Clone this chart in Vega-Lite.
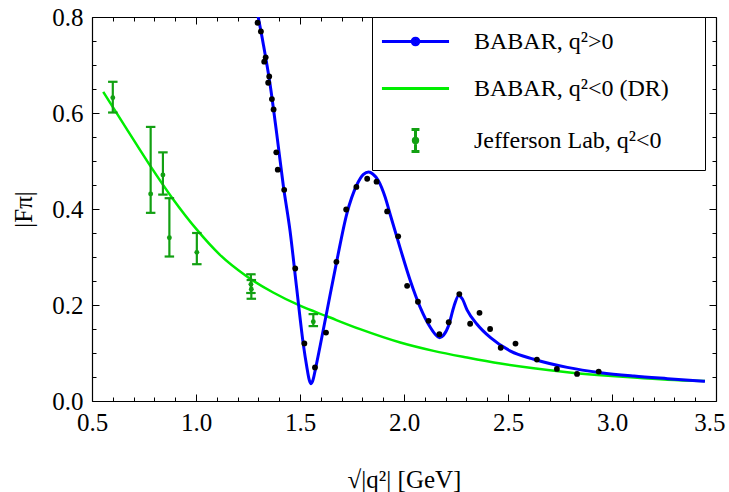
{
  "$schema": "https://vega.github.io/schema/vega-lite/v6.json",
  "width": 624,
  "height": 384,
  "autosize": {"type": "none"},
  "padding": {"left": 92, "top": 17, "right": 13, "bottom": 91},
  "background": "white",
  "config": {
    "view": {"stroke": null},
    "font": "Liberation Serif",
    "style": {
      "guide-label": {"font": "Liberation Serif"},
      "guide-title": {"font": "Liberation Serif"}
    },
    "axis": {
      "domainColor": "black",
      "domainWidth": 1.2,
      "tickColor": "black",
      "tickWidth": 1,
      "labelColor": "black",
      "titleColor": "black",
      "labelFont": "Liberation Serif",
      "titleFont": "Liberation Serif",
      "labelFontSize": 25,
      "titleFontSize": 25,
      "titleFontWeight": "normal",
      "grid": false,
      "labelOverlap": false,
      "labelFlush": false
    }
  },
  "datasets": {
    "babar_curve": [
      {"x": 1.290, "y": 0.82}, {"x": 1.323, "y": 0.745}, {"x": 1.355, "y": 0.663},
      {"x": 1.388, "y": 0.557}, {"x": 1.420, "y": 0.448}, {"x": 1.452, "y": 0.355},
      {"x": 1.484, "y": 0.235}, {"x": 1.516, "y": 0.118}, {"x": 1.532, "y": 0.073},
      {"x": 1.545, "y": 0.043}, {"x": 1.553, "y": 0.036}, {"x": 1.562, "y": 0.043},
      {"x": 1.574, "y": 0.066}, {"x": 1.596, "y": 0.113}, {"x": 1.629, "y": 0.186},
      {"x": 1.677, "y": 0.292}, {"x": 1.725, "y": 0.390}, {"x": 1.773, "y": 0.450},
      {"x": 1.805, "y": 0.472}, {"x": 1.830, "y": 0.477}, {"x": 1.850, "y": 0.473},
      {"x": 1.877, "y": 0.459}, {"x": 1.910, "y": 0.424}, {"x": 1.934, "y": 0.388},
      {"x": 1.982, "y": 0.318}, {"x": 2.030, "y": 0.251}, {"x": 2.078, "y": 0.195},
      {"x": 2.127, "y": 0.153}, {"x": 2.150, "y": 0.139}, {"x": 2.171, "y": 0.132},
      {"x": 2.190, "y": 0.137}, {"x": 2.215, "y": 0.158}, {"x": 2.240, "y": 0.197},
      {"x": 2.263, "y": 0.220}, {"x": 2.280, "y": 0.213}, {"x": 2.303, "y": 0.190},
      {"x": 2.351, "y": 0.160}, {"x": 2.416, "y": 0.132}, {"x": 2.512, "y": 0.104},
      {"x": 2.624, "y": 0.087}, {"x": 2.785, "y": 0.070}, {"x": 2.946, "y": 0.059},
      {"x": 3.106, "y": 0.052}, {"x": 3.267, "y": 0.0466}, {"x": 3.447, "y": 0.041}
    ],
    "dr_curve": [
      {"x": 0.554, "y": 0.644}, {"x": 0.665, "y": 0.568}, {"x": 0.777, "y": 0.492},
      {"x": 0.889, "y": 0.421}, {"x": 1.002, "y": 0.358}, {"x": 1.114, "y": 0.305},
      {"x": 1.243, "y": 0.260}, {"x": 1.371, "y": 0.226}, {"x": 1.500, "y": 0.1985},
      {"x": 1.629, "y": 0.1765}, {"x": 1.789, "y": 0.1496}, {"x": 1.982, "y": 0.1218},
      {"x": 2.142, "y": 0.1044}, {"x": 2.303, "y": 0.0905}, {"x": 2.464, "y": 0.0780},
      {"x": 2.624, "y": 0.0680}, {"x": 2.785, "y": 0.060}, {"x": 2.946, "y": 0.0538},
      {"x": 3.106, "y": 0.0487}, {"x": 3.267, "y": 0.0445}, {"x": 3.447, "y": 0.0415}
    ],
    "babar_pts": [
      {"x": 1.296, "y": 0.788}, {"x": 1.312, "y": 0.770}, {"x": 1.328, "y": 0.707},
      {"x": 1.335, "y": 0.716}, {"x": 1.347, "y": 0.663}, {"x": 1.352, "y": 0.676},
      {"x": 1.365, "y": 0.629}, {"x": 1.373, "y": 0.6075}, {"x": 1.386, "y": 0.518},
      {"x": 1.393, "y": 0.482}, {"x": 1.424, "y": 0.440}, {"x": 1.477, "y": 0.276},
      {"x": 1.521, "y": 0.120}, {"x": 1.572, "y": 0.070}, {"x": 1.625, "y": 0.1426},
      {"x": 1.675, "y": 0.290}, {"x": 1.722, "y": 0.399}, {"x": 1.771, "y": 0.446},
      {"x": 1.823, "y": 0.463}, {"x": 1.868, "y": 0.457}, {"x": 1.919, "y": 0.395},
      {"x": 1.972, "y": 0.343}, {"x": 2.015, "y": 0.240}, {"x": 2.067, "y": 0.2067},
      {"x": 2.118, "y": 0.167}, {"x": 2.170, "y": 0.139}, {"x": 2.215, "y": 0.164},
      {"x": 2.266, "y": 0.2227}, {"x": 2.318, "y": 0.161}, {"x": 2.363, "y": 0.1837},
      {"x": 2.414, "y": 0.150}, {"x": 2.465, "y": 0.111}, {"x": 2.536, "y": 0.1197},
      {"x": 2.639, "y": 0.0863}, {"x": 2.735, "y": 0.0668}, {"x": 2.832, "y": 0.0564},
      {"x": 2.936, "y": 0.0612}
    ],
    "jlab": [
      {"x": 0.600, "y": 0.632, "lo": 0.601, "hi": 0.665},
      {"x": 0.782, "y": 0.4315, "lo": 0.392, "hi": 0.571},
      {"x": 0.841, "y": 0.471, "lo": 0.430, "hi": 0.518},
      {"x": 0.872, "y": 0.340, "lo": 0.301, "hi": 0.4225},
      {"x": 1.004, "y": 0.3097, "lo": 0.285, "hi": 0.350},
      {"x": 1.264, "y": 0.243, "lo": 0.225, "hi": 0.264},
      {"x": 1.266, "y": 0.233, "lo": 0.213, "hi": 0.252},
      {"x": 1.564, "y": 0.165, "lo": 0.156, "hi": 0.181}
    ],
    "legend": [
      {"series": "BABAR, q²>0"},
      {"series": "BABAR, q²<0 (DR)"},
      {"series": "Jefferson Lab, q²<0"}
    ]
  },
  "resolve": {"axis": {"x": "independent", "y": "independent"}},
  "layer": [
    {
      "data": {"name": "dr_curve"},
      "mark": {"type": "line", "color": "#00ee00", "strokeWidth": 2.5, "clip": true, "interpolate": "monotone"},
      "encoding": {
        "x": {
          "field": "x", "type": "quantitative",
          "scale": {"domain": [0.5, 3.5], "nice": false, "zero": false},
          "axis": {
            "orient": "bottom",
            "values": [0.5,0.6,0.7,0.8,0.9,1.0,1.1,1.2,1.3,1.4,1.5,1.6,1.7,1.8,1.9,2.0,2.1,2.2,2.3,2.4,2.5,2.6,2.7,2.8,2.9,3.0,3.1,3.2,3.3,3.4,3.5],
            "tickSize": {"condition": {"test": "abs(datum.value*2-round(datum.value*2))<0.001", "value": -7}, "value": -4},
            "labelExpr": "abs(datum.value*2-round(datum.value*2))<0.001 ? format(datum.value, '.1f') : ''",
            "labelAlign": {"condition": {"test": "datum.value > 3.45", "value": "right"}, "value": "center"},
            "labelOffset": {"condition": {"test": "datum.value > 3.45", "value": 9}, "value": 0},
            "labelFont": "Liberation Serif",
            "titleFont": "Liberation Serif",
            "labelPadding": 16,
            "title": "√|q²| [GeV]",
            "titlePadding": 29,
            "encode": {
              "labels": {"update": {"font": {"value": "Liberation Serif"}}},
              "title": {"update": {"font": {"value": "Liberation Serif"}}}
            }
          }
        },
        "y": {
          "field": "y", "type": "quantitative",
          "scale": {"domain": [0, 0.8], "nice": false, "zero": false},
          "axis": {
            "orient": "left",
            "values": [0,0.05,0.1,0.15,0.2,0.25,0.3,0.35,0.4,0.45,0.5,0.55,0.6,0.65,0.7,0.75,0.8],
            "tickSize": {"condition": {"test": "abs(datum.value*5-round(datum.value*5))<0.001", "value": -7}, "value": -4},
            "labelExpr": "abs(datum.value*5-round(datum.value*5))<0.001 ? format(datum.value, '.1f') : ''",
            "labelFont": "Liberation Serif",
            "titleFont": "Liberation Serif",
            "labelPadding": 16,
            "title": "|Fπ|",
            "titlePadding": 15,
            "encode": {
              "labels": {"update": {"font": {"value": "Liberation Serif"}}},
              "title": {"update": {"font": {"value": "Liberation Serif"}}}
            }
          }
        }
      }
    },
    {
      "data": {"name": "babar_curve"},
      "mark": {"type": "line", "color": "#0000ff", "strokeWidth": 3, "clip": true, "interpolate": "monotone"},
      "encoding": {
        "x": {
          "field": "x", "type": "quantitative",
          "scale": {"domain": [0.5, 3.5], "nice": false, "zero": false},
          "axis": {
            "orient": "top",
            "values": [0.5,0.6,0.7,0.8,0.9,1.0,1.1,1.2,1.3,1.4,1.5,1.6,1.7,1.8,1.9,2.0,2.1,2.2,2.3,2.4,2.5,2.6,2.7,2.8,2.9,3.0,3.1,3.2,3.3,3.4,3.5],
            "tickSize": {"condition": {"test": "abs(datum.value*2-round(datum.value*2))<0.001", "value": -7}, "value": -4},
            "labels": false,
            "title": null
          }
        },
        "y": {
          "field": "y", "type": "quantitative",
          "scale": {"domain": [0, 0.8], "nice": false, "zero": false},
          "axis": {
            "orient": "right",
            "values": [0,0.05,0.1,0.15,0.2,0.25,0.3,0.35,0.4,0.45,0.5,0.55,0.6,0.65,0.7,0.75,0.8],
            "tickSize": {"condition": {"test": "abs(datum.value*5-round(datum.value*5))<0.001", "value": -7}, "value": -4},
            "labels": false,
            "title": null
          }
        }
      }
    },
    {
      "data": {"name": "jlab"},
      "mark": {"type": "rule", "color": "#12a012", "strokeWidth": 2.2},
      "encoding": {
        "x": {"field": "x", "type": "quantitative", "axis": null},
        "y": {"field": "lo", "type": "quantitative", "axis": null},
        "y2": {"field": "hi"}
      }
    },
    {
      "data": {"name": "jlab"},
      "mark": {"type": "point", "shape": "stroke", "size": 90, "color": "#12a012", "strokeWidth": 2.2, "opacity": 1},
      "encoding": {
        "x": {"field": "x", "type": "quantitative", "axis": null},
        "y": {"field": "lo", "type": "quantitative", "axis": null}
      }
    },
    {
      "data": {"name": "jlab"},
      "mark": {"type": "point", "shape": "stroke", "size": 90, "color": "#12a012", "strokeWidth": 2.2, "opacity": 1},
      "encoding": {
        "x": {"field": "x", "type": "quantitative", "axis": null},
        "y": {"field": "hi", "type": "quantitative", "axis": null}
      }
    },
    {
      "data": {"name": "jlab"},
      "mark": {"type": "circle", "size": 24, "color": "#12a012", "opacity": 1},
      "encoding": {
        "x": {"field": "x", "type": "quantitative", "axis": null},
        "y": {"field": "y", "type": "quantitative", "axis": null}
      }
    },
    {
      "data": {"name": "babar_pts"},
      "mark": {"type": "circle", "size": 34, "color": "black", "opacity": 1},
      "encoding": {
        "x": {"field": "x", "type": "quantitative", "axis": null},
        "y": {"field": "y", "type": "quantitative", "axis": null}
      }
    },
    {
      "data": {"name": "legend"},
      "mark": {"type": "point", "opacity": 0, "strokeWidth": 3},
      "encoding": {
        "shape": {
          "field": "series", "type": "nominal",
          "scale": {
            "domain": ["BABAR, q²>0", "BABAR, q²<0 (DR)", "Jefferson Lab, q²<0"],
            "range": [
              "M-3.05,0H3.05M-0.3,0A0.3,0.3,0,1,0,0.3,0A0.3,0.3,0,1,0,-0.3,0Z",
              "M-3.05,0H3.05",
              "M0,-1.0V1.0M-0.36,-1.0H0.36M-0.36,1.0H0.36M-0.2,0A0.2,0.2,0,1,0,0.2,0A0.2,0.2,0,1,0,-0.2,0Z"
            ]
          },
          "legend": {
            "title": ".",
            "titleOrient": "right",
            "titleColor": "white",
            "titleFontSize": 6,
            "titlePadding": 22,
            "orient": "none",
            "legendX": 280,
            "legendY": 0,
            "padding": 12,
            "strokeColor": "black",
            "fillColor": "white",
            "labelFont": "Liberation Serif",
            "labelFontSize": 24,
            "labelColor": "black",
            "labelLimit": 500,
            "symbolSize": 484,
            "symbolStrokeWidth": 3,
            "symbolOpacity": 1,
            "symbolOffset": 19,
            "labelOffset": 46,
            "rowPadding": 22,
            "labelExpr": "datum.label + '\u00a0\u00a0\u00a0\u00a0\u00a0\u00a0\u00a0\u00a0\u00a0\u00a0\u00a0\u00a0\u00a0\u00a0\u00a0\u00a0\u00a0'",
            "encode": {"legend": {"update": {"strokeWidth": {"value": 2}}}}
          }
        },
        "stroke": {
          "field": "series", "type": "nominal",
          "scale": {
            "domain": ["BABAR, q²>0", "BABAR, q²<0 (DR)", "Jefferson Lab, q²<0"],
            "range": ["#0000ff", "#00ee00", "#12a012"]
          },
          "legend": {"title": ".", "orient": "none", "legendX": 280, "legendY": 0}
        },
        "fill": {
          "field": "series", "type": "nominal",
          "scale": {
            "domain": ["BABAR, q²>0", "BABAR, q²<0 (DR)", "Jefferson Lab, q²<0"],
            "range": ["black", "transparent", "#12a012"]
          },
          "legend": {"title": ".", "orient": "none", "legendX": 280, "legendY": 0}
        }
      }
    }
  ]
}
